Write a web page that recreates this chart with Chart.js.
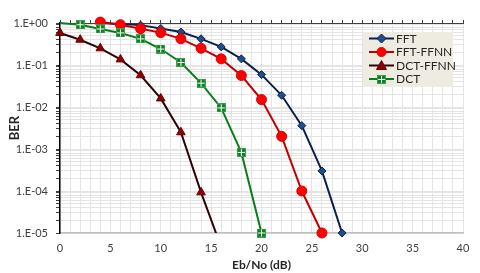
<!DOCTYPE html>
<html>
<head>
<meta charset="utf-8">
<script src="https://cdn.jsdelivr.net/npm/chart.js@4"></script>
<style>
html,body{margin:0;padding:0;background:#fff;}
#wrap{width:480px;height:273px;position:relative;}
</style>
</head>
<body>
<div id="wrap"><canvas id="c" width="480" height="273"></canvas></div>
<script>
// ---- data ----
const seriesNames = ['FFT', 'FFT-FFNN', 'DCT-FFNN', 'DCT'];
const fftX      = [4, 6, 8, 10, 12, 14, 16, 18, 20, 22, 24, 26, 28];
const fftY      = [1.0, 0.95, 0.89, 0.74, 0.61, 0.42, 0.27, 0.14, 0.059, 0.019, 0.0036, 0.0003, 0.00001];
const fftFfnnX  = [4, 6, 8, 10, 12, 14, 16, 18, 20, 22, 24, 26];
const fftFfnnY  = [1.05, 0.91, 0.73, 0.59, 0.42, 0.25, 0.14, 0.056, 0.015, 0.002, 0.0001, 0.00001];
const dctFfnnX  = [0, 2, 4, 6, 8, 10, 12, 14, 16];
const dctFfnnY  = [0.58, 0.40, 0.25, 0.136, 0.057, 0.016, 0.0025, 0.000093, 0.0000046];
const dctX      = [0, 2, 4, 6, 8, 10, 12, 14, 16, 18, 20];
const dctY      = [1.0, 0.91, 0.72, 0.58, 0.42, 0.24, 0.115, 0.037, 0.0095, 0.00083, 0.00001];
const xTickLabels = ['0', '5', '10', '15', '20', '25', '30', '35', '40'];
const yTickLabels = ['1.E-05', '1.E-04', '1.E-03', '1.E-02', '1.E-01', '1.E+00'];

const pts = (xs, ys) => xs.map((x, i) => ({x: x, y: ys[i]}));

// green square marker with white cross
function makeSquareCross(){
  const c = document.createElement('canvas');
  c.width = 9; c.height = 9;
  const g = c.getContext('2d');
  g.fillStyle = '#3a9f4c';
  g.fillRect(0, 0, 9, 9);
  g.fillStyle = '#107f24';
  g.fillRect(1, 1, 7, 7);
  g.fillStyle = '#ffffff';
  g.fillRect(4, 1, 1, 7);
  g.fillRect(1, 4, 7, 1);
  return c;
}
const sqCross = makeSquareCross();

const styles = [
  {line: '#0b1f4d', fill: '#1f4e8c', border: '#0b1f4d', style: 'rectRot', r: 4},
  {line: '#c00000', fill: '#ff0000', border: '#e00000', style: 'circle', r: 5},
  {line: '#2a0505', fill: '#8b0000', border: '#6a0000', style: 'triangle', r: 5},
  {line: '#0a7d1a', fill: '#107f24', border: '#3a9f4c', style: sqCross, r: 5}
];

const legendPlugin = {
  id: 'insideLegend',
  afterDraw(chart){
    const ctx = chart.ctx;
    ctx.save();
    const bx = 363, by = 32, bw = 90, bh = 55;
    ctx.fillStyle = '#eeece1';
    ctx.fillRect(bx, by, bw, bh);
    const rows = [38.5, 52, 65.5, 79];
    ctx.font = '12px Lato, "Open Sans", sans-serif';
    ctx.textBaseline = 'middle';
    seriesNames.forEach((name, i) => {
      const s = styles[i];
      const y = rows[i];
      ctx.strokeStyle = s.line;
      ctx.lineWidth = 2;
      ctx.beginPath();
      ctx.moveTo(369, y); ctx.lineTo(394, y); ctx.stroke();
      const cx = 381.5;
      ctx.fillStyle = s.fill;
      ctx.strokeStyle = s.border;
      ctx.lineWidth = 1;
      if (s.style === 'rectRot'){
        ctx.beginPath();
        ctx.moveTo(cx, y - 4.5); ctx.lineTo(cx + 4.5, y); ctx.lineTo(cx, y + 4.5); ctx.lineTo(cx - 4.5, y); ctx.closePath();
        ctx.fill(); ctx.stroke();
      } else if (s.style === 'circle'){
        ctx.beginPath(); ctx.arc(cx, y, 4.5, 0, Math.PI * 2); ctx.fill(); ctx.stroke();
      } else if (s.style === 'triangle'){
        ctx.beginPath();
        ctx.moveTo(cx, y - 5); ctx.lineTo(cx + 5, y + 4); ctx.lineTo(cx - 5, y + 4); ctx.closePath();
        ctx.fill(); ctx.stroke();
      } else {
        ctx.drawImage(sqCross, Math.round(cx - 4.5), Math.round(y - 4.5));
      }
      ctx.fillStyle = '#262626';
      ctx.fillText(name, 396, y + 0.5);
    });
    ctx.restore();
  }
};

function ds(i, data, radii){
  const s = styles[i];
  return {
    label: seriesNames[i],
    data: data,
    borderColor: s.line,
    borderWidth: 2,
    backgroundColor: s.fill,
    pointBackgroundColor: s.fill,
    pointBorderColor: s.border,
    pointBorderWidth: 1,
    pointStyle: s.style,
    pointRadius: radii || s.r,
    pointHoverRadius: s.r,
    tension: 0,
    fill: false,
    order: 4 - i,
    clip: {left: 12, top: 12, right: 12, bottom: 12}
  };
}

const dctRadii = dctX.map((x, i) => i === 0 ? 0 : 5);
const dctFfnnRadii = dctFfnnY.map(v => v < 1e-5 ? 0 : 5);

const fontFam = 'Lato, "Open Sans", sans-serif';

const chart = new Chart(document.getElementById('c'), {
  type: 'line',
  data: {
    datasets: [
      ds(0, pts(fftX, fftY)),
      ds(1, pts(fftFfnnX, fftFfnnY)),
      Object.assign(ds(2, pts(dctFfnnX, dctFfnnY), dctFfnnRadii), {clip: {left: 12, top: 12, right: 12, bottom: 0}}),
      ds(3, pts(dctX, dctY), dctRadii)
    ]
  },
  options: {
    responsive: false,
    animation: false,
    devicePixelRatio: 1,
    layout: {padding: {left: 0, right: 17, top: 0, bottom: 0}},
    plugins: {legend: {display: false}, tooltip: {enabled: false}},
    scales: {
      x: {
        type: 'linear', position: 'bottom', min: 0, max: 40,
        afterFit(s){ s.height = 40; },
        afterBuildTicks(s){ const t = []; for (let v = 0; v <= 40; v++) t.push({value: v}); s.ticks = t; },
        ticks: {
          autoSkip: false, maxRotation: 0, padding: 9,
          color: '#404040', font: {family: fontFam, size: 11},
          callback(v){ const idx = xTickLabels.indexOf(String(v)); return idx >= 0 ? xTickLabels[idx] : ''; }
        },
        grid: {color: '#e4e4e4', drawTicks: false, lineWidth: 1},
        border: {color: '#bfbfbf', width: 1.5},
        title: {display: true, text: 'Eb/No (dB)', color: '#262626', font: {family: fontFam, size: 12, weight: 'bold'}, padding: {top: 0, bottom: 1}}
      },
      x2: {
        type: 'linear', position: 'top', min: 0, max: 40,
        afterFit(s){ s.height = 23; },
        afterBuildTicks(s){ const t = []; for (let v = 0; v <= 40; v++) t.push({value: v}); s.ticks = t; },
        ticks: {display: false},
        grid: {drawOnChartArea: false, tickLength: 3, color: '#404040'},
        border: {color: '#404040', width: 1}
      },
      y: {
        type: 'logarithmic', position: 'left', min: 1e-5, max: 1,
        afterFit(s){ s.width = 60; },
        afterBuildTicks(s){
          const t = [];
          for (let e = -5; e <= 0; e++){
            for (let m = 1; m <= 9; m++){
              const v = m * Math.pow(10, e);
              if (v > 1.0000001) break;
              t.push({value: v, major: m === 1});
            }
          }
          s.ticks = t;
        },
        ticks: {
          autoSkip: false, padding: 8,
          color: '#404040', font: {family: fontFam, size: 11},
          callback(v){
            const e = Math.round(Math.log10(v));
            if (Math.abs(v - Math.pow(10, e)) / Math.pow(10, e) < 1e-6){
              return yTickLabels[e + 5];
            }
            return '';
          }
        },
        grid: {color: '#e4e4e4', tickColor: '#404040', tickLength: 4, lineWidth: 1},
        border: {color: '#000000', width: 1.5},
        title: {display: true, text: 'BER', color: '#262626', font: {family: fontFam, size: 13, weight: 'bold'}, padding: {top: 7, bottom: 0}}
      }
    }
  },
  plugins: [legendPlugin]
});
</script>
</body>
</html>
